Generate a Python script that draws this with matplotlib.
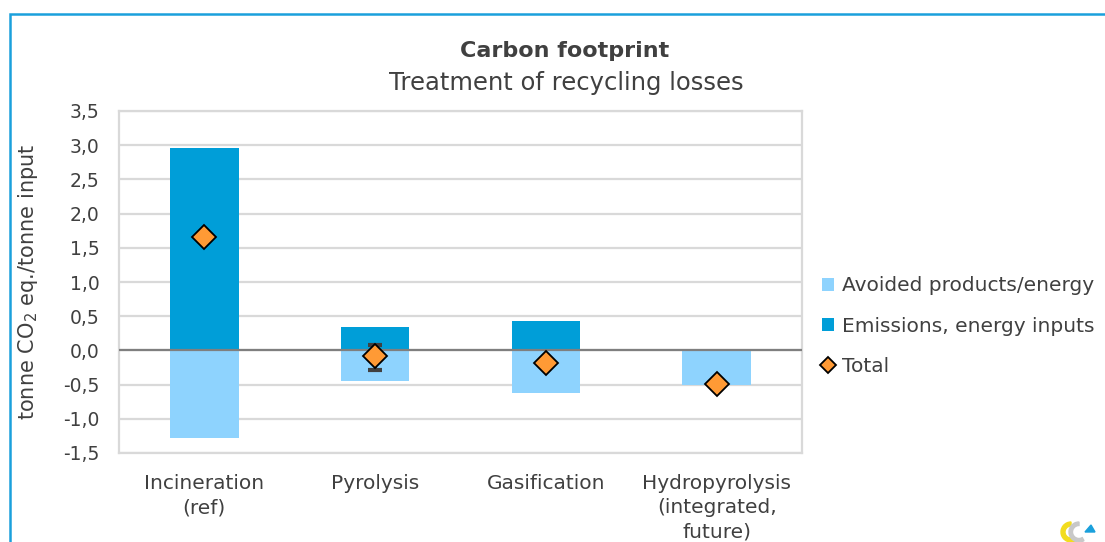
import matplotlib
matplotlib.use("Agg")
import matplotlib.pyplot as plt
from matplotlib.patches import Rectangle, Polygon, Wedge
import numpy as np

categories = ["Incineration\n(ref)", "Pyrolysis", "Gasification", "Hydropyrolysis\n(integrated,\nfuture)"]
emissions = [2.96, 0.34, 0.43, 0.0]
avoided = [-1.28, -0.45, -0.62, -0.51]
total = [1.66, -0.08, -0.19, -0.49]
err_low = [None, -0.29, None, None]
err_high = [None, 0.085, None, None]
yticks = [-1.5, -1.0, -0.5, 0.0, 0.5, 1.0, 1.5, 2.0, 2.5, 3.0, 3.5]
ytick_labels = ["-1,5", "-1,0", "-0,5", "0,0", "0,5", "1,0", "1,5", "2,0", "2,5", "3,0", "3,5"]

C_EMIS = "#009ED8"
C_AVOID = "#8ED3FE"
C_TOTAL = "#FF9A35"
TXT = "#404040"
GRID = "#D9D9D9"

W, H = 1105, 542
fig = plt.figure(figsize=(W / 100, H / 100), dpi=100)
plt.rcParams['font.family'] = ['DejaVu Sans']

# outer chart frame
fig.patches.append(Rectangle((10 / W, -0.1), 1.2, 1 - 14 / H + 0.1, transform=fig.transFigure,
                             fill=False, edgecolor="#1AA0DC", linewidth=1.8))

ax = fig.add_axes([119 / W, 1 - 453 / H, (802 - 119) / W, (453 - 111) / H])
x = np.arange(len(categories))
bw = 0.4
b_av = ax.bar(x, avoided, width=bw, color=C_AVOID, label="Avoided products/energy", zorder=2)
b_em = ax.bar(x, emissions, width=bw, color=C_EMIS, label="Emissions, energy inputs", zorder=2)
ax.axhline(0, color="#7F7F7F", linewidth=1.6, zorder=3)

for i in range(len(categories)):
    if err_low[i] is not None:
        ax.errorbar(x[i], total[i], yerr=[[total[i] - err_low[i]], [err_high[i] - total[i]]],
                    fmt="none", ecolor="#404040", elinewidth=2.2, capsize=5, capthick=3, zorder=4)
ln_tot, = ax.plot(x, total, linestyle="none", marker="D", markersize=12.5, markerfacecolor=C_TOTAL,
                  markeredgecolor="black", markeredgewidth=1.3, label="Total", zorder=5)

ax.set_xlim(-0.5, len(categories) - 0.5)
ax.set_ylim(-1.5, 3.5)
ax.set_yticks(yticks)
ax.set_yticklabels(ytick_labels, fontsize=13.5, color=TXT)
ax.set_xticks(x)
ax.set_xticklabels(categories, fontsize=14.5, color=TXT, linespacing=1.35)
ax.tick_params(axis="both", length=0)
ax.tick_params(axis="y", pad=14)
ax.tick_params(axis="x", pad=15)
ax.yaxis.grid(True, color=GRID, linewidth=1.6, zorder=0)
ax.set_axisbelow(True)
for s in ax.spines.values():
    s.set_color(GRID)
    s.set_linewidth(1.6)

ax.set_ylabel(r"tonne CO$_2$ eq./tonne input", fontsize=15, color=TXT)
ax.yaxis.set_label_coords(-0.116, 0.5)

fig.text(565 / W, 1 - 51 / H, "Carbon footprint", ha="center", va="center",
         fontsize=16, fontweight="bold", color=TXT)
fig.text(566 / W, 1 - 83 / H, "Treatment of recycling losses", ha="center", va="center",
         fontsize=17.5, color=TXT)

leg = fig.legend([b_av, b_em, ln_tot],
                 ["Avoided products/energy", "Emissions, energy inputs", "Total"],
                 loc="center left", bbox_to_anchor=(812 / W, 1 - 326 / H),
                 frameon=False, fontsize=14.5, labelcolor=TXT, handlelength=0.6, handleheight=0.6,
                 handletextpad=0.4, labelspacing=1.05, borderpad=0)
for h in leg.legend_handles:
    if hasattr(h, "set_markersize"):
        h.set_markersize(8)

# small logo approximation, bottom right
lax = fig.add_axes([1055 / W, 0, 45 / W, 32 / H])
lax.set_xlim(0, 45)
lax.set_ylim(0, 32)
lax.axis("off")
lax.add_patch(Wedge((16, 10), 10, 90, 300, width=4, color="#F2DC1E"))
lax.add_patch(Wedge((24, 10), 10, 90, 300, width=3.5, color="#C8C8C8"))
lax.add_patch(Polygon([[30, 10], [40, 10], [36, 17]], closed=True, color="#1AA0DC"))

fig.savefig("out.png", dpi=100)
